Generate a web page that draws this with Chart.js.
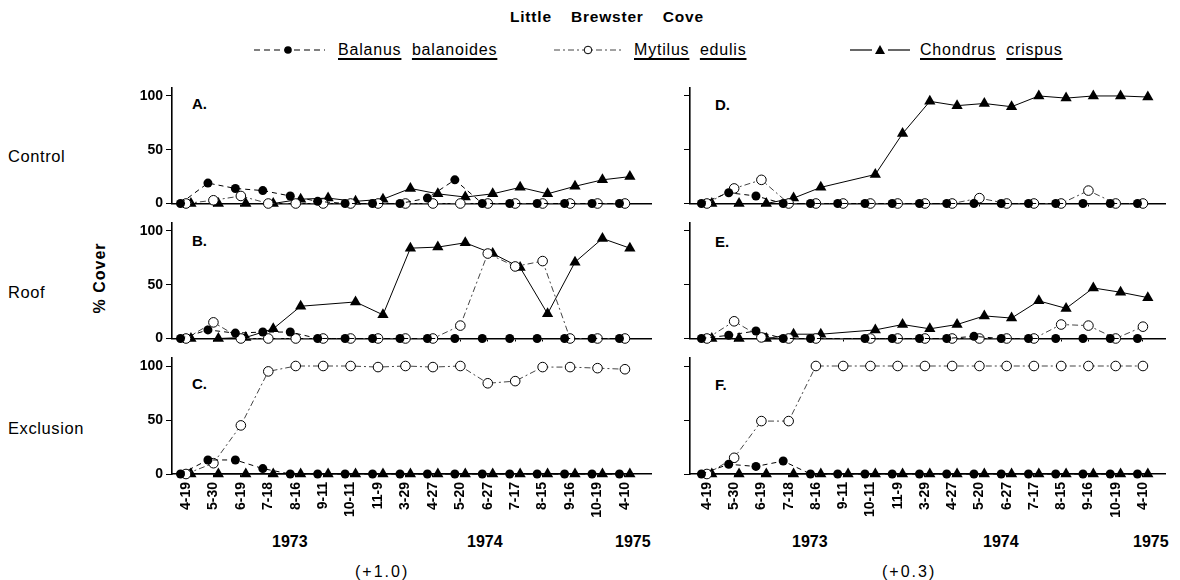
<!DOCTYPE html>
<html>
<head>
<meta charset="utf-8">
<script src="https://cdn.jsdelivr.net/npm/chart.js@4.4.0/dist/chart.umd.min.js"></script>
<style>
  body{margin:0;background:#fff;width:1180px;height:580px;position:relative;overflow:hidden;
       font-family:"Liberation Sans",Arial,sans-serif;color:#000}
  .t{position:absolute;white-space:nowrap;transform:translateY(-50%)}
  .u{text-decoration:underline;text-decoration-thickness:1.5px;text-underline-offset:3px}
  .lg{font-size:16px;letter-spacing:0.8px}
  .row{font-size:16.5px;letter-spacing:0.6px}
  canvas{position:absolute}
  svg{position:absolute}
</style>
</head>
<body>

<div class="t" style="left:510px;top:17px;font-size:15.5px;font-weight:bold;word-spacing:14px;letter-spacing:0.8px">Little Brewster Cove</div>

<svg style="left:252px;top:42px" width="75" height="16">
  <line x1="2" y1="8" x2="73" y2="8" stroke="#000" stroke-width="1.2" stroke-dasharray="6,4"/>
  <circle cx="36" cy="8" r="3.8" fill="#000"/>
</svg>
<div class="t lg" style="left:338px;top:50px"><span class="u">Balanus</span>&nbsp;&nbsp;<span class="u">balanoides</span></div>

<svg style="left:552px;top:42px" width="72" height="16">
  <line x1="2" y1="8" x2="70" y2="8" stroke="#444" stroke-width="1" stroke-dasharray="6,3,2,3"/>
  <circle cx="36" cy="8" r="3.8" fill="#fff" stroke="#000" stroke-width="1"/>
</svg>
<div class="t lg" style="left:634px;top:50px"><span class="u">Mytilus</span>&nbsp;&nbsp;<span class="u">edulis</span></div>

<svg style="left:848px;top:42px" width="64" height="16">
  <line x1="2" y1="8" x2="24" y2="8" stroke="#000" stroke-width="1.2"/>
  <line x1="40" y1="8" x2="62" y2="8" stroke="#000" stroke-width="1.2"/>
  <polygon points="32,3 37,12 27,12" fill="#000"/>
</svg>
<div class="t lg" style="left:920px;top:50px"><span class="u">Chondrus</span>&nbsp;&nbsp;<span class="u">crispus</span></div>

<div class="t row" style="left:8px;top:156px">Control</div>
<div class="t row" style="left:8px;top:292px">Roof</div>
<div class="t row" style="left:8px;top:428px">Exclusion</div>
<div class="t" style="left:100px;top:278px;font-size:16px;font-weight:bold;letter-spacing:1px;transform:translate(-50%,-50%) rotate(-90deg)">% Cover</div>

<div class="t" style="left:192px;top:103px;font-size:15px;font-weight:bold">A.</div>
<div class="t" style="left:192px;top:240px;font-size:15px;font-weight:bold">B.</div>
<div class="t" style="left:192px;top:383px;font-size:15px;font-weight:bold">C.</div>
<div class="t" style="left:715px;top:104px;font-size:15px;font-weight:bold">D.</div>
<div class="t" style="left:715px;top:241px;font-size:15px;font-weight:bold">E.</div>
<div class="t" style="left:715px;top:384px;font-size:15px;font-weight:bold">F.</div>

<div class="t" style="left:272px;top:542px;font-size:16px;font-weight:bold">1973</div>
<div class="t" style="left:467px;top:542px;font-size:16px;font-weight:bold">1974</div>
<div class="t" style="left:615px;top:542px;font-size:16px;font-weight:bold">1975</div>
<div class="t" style="left:792px;top:542px;font-size:16px;font-weight:bold">1973</div>
<div class="t" style="left:983px;top:542px;font-size:16px;font-weight:bold">1974</div>
<div class="t" style="left:1133px;top:542px;font-size:16px;font-weight:bold">1975</div>
<div class="t" style="left:355px;top:572px;font-size:16px;letter-spacing:2px">(+1.0)</div>
<div class="t" style="left:882px;top:572px;font-size:16px;letter-spacing:2px">(+0.3)</div>

<canvas id="pA"></canvas>
<canvas id="pB"></canvas>
<canvas id="pC"></canvas>
<canvas id="pD"></canvas>
<canvas id="pE"></canvas>
<canvas id="pF"></canvas>

<script>
const dates = ['4-19','5-30','6-19','7-18','8-16','9-11','10-11','11-9','3-29','4-27','5-20','6-27','7-17','8-15','9-16','10-19','4-10'];

// Control, +1.0
const balA  = [0,19,14,12,7,2,0,0,0,5,22,0,0,0,0,0,0];
const mytA  = [0,3,7,0,0,0,0,0,0,0,0,0,0,0,0,0,0];
const chonA = [0,0,0,0,4,5,2,4,14,9,6,9,15,9,16,22,25];
// Roof, +1.0
const balB  = [0,8,5,6,6,0,0,0,0,0,0,0,0,0,0,0,0];
const mytB  = [0,15,0,0,0,0,0,0,0,0,12,79,67,72,0,0,0];
const chonB = [0,0,1,9,30,null,34,22,84,85,89,79,66,23,71,93,84];
// Exclusion, +1.0
const balC  = [0,13,13,5,0,0,0,0,0,0,0,0,0,0,0,0,0];
const mytC  = [0,10,45,95,100,100,100,99,100,99,100,84,86,99,99,98,97];
const chonC = [0,0,0,0,0,0,0,0,0,0,0,0,0,0,0,0,0];
// Control, +0.3
const balD  = [0,10,7,0,0,0,0,0,0,0,0,0,0,0,0,0,0];
const mytD  = [0,14,22,0,0,0,0,0,0,0,5,0,0,0,12,0,0];
const chonD = [0,0,0,5,15,null,27,65,95,91,93,90,100,98,100,100,99];
// Roof, +0.3
const balE  = [0,3,7,0,0,null,0,0,0,0,2,0,0,0,0,0,0];
const mytE  = [0,16,1,0,0,null,0,0,0,0,0,0,0,13,12,0,11];
const chonE = [0,0,0,4,4,null,8,13,9,13,21,19,35,28,47,43,38];
// Exclusion, +0.3
const balF  = [0,9,7,12,0,0,0,0,0,0,0,0,0,0,0,0,0];
const mytF  = [0,15,49,49,100,100,100,100,100,100,100,100,100,100,100,100,100];
const chonF = [0,0,0,0,0,0,0,0,0,0,0,0,0,0,0,0,0];

const FONT = 'Liberation Sans, Arial, sans-serif';
const YW = 46, PADT = 12, PADR = 12, AREAH = 116, PXPER = 1.08;

function pts(arr, off){
  return arr.map((v,i)=>({x:i+off, y:v}));
}

function panel(id, col, y0, bal, myt, chon, bottom){
  const c = document.getElementById(id);
  const xh = bottom ? 56 : 6;
  c.width = (col.right-col.left) + YW + PADR;
  c.height = PADT + AREAH + xh;
  c.style.left = (col.left - YW) + 'px';
  c.style.top = (y0 - AREAH - PADT) + 'px';
  new Chart(c, {
    type:'line',
    data:{datasets:[
      {label:'Balanus balanoides', data:pts(bal,-0.2), borderColor:'#000', borderWidth:1,
       borderDash:[5,4], pointStyle:'circle', pointRadius:4.5, pointBackgroundColor:'#000',
       pointBorderColor:'#000', pointBorderWidth:0, spanGaps:true, clip:false},
      {label:'Mytilus edulis', data:pts(myt,0), borderColor:'#444', borderWidth:1,
       borderDash:[6,3,2,3], pointStyle:'circle', pointRadius:4.8, pointBackgroundColor:'#fff',
       pointBorderColor:'#000', pointBorderWidth:1, spanGaps:true, clip:false},
      {label:'Chondrus crispus', data:pts(chon,0.18), borderColor:'#000', borderWidth:1,
       pointStyle:'triangle', pointRadius:6.5, pointBackgroundColor:'#000',
       pointBorderColor:'#000', pointBorderWidth:0, spanGaps:true, clip:false}
    ]},
    options:{
      responsive:false, animation:false,
      layout:{padding:{top:PADT, right:PADR, left:0, bottom:0}},
      plugins:{legend:{display:false}, tooltip:{enabled:false}},
      scales:{
        x:{type:'linear', min:col.min, max:col.max,
           afterBuildTicks:s=>{ s.ticks = dates.map((d,i)=>({value:i})); },
           afterFit:s=>{ s.height = xh; s.paddingLeft = 0; s.paddingRight = 0; },
           ticks:{display:bottom, autoSkip:false, minRotation:90, maxRotation:90,
                  callback:v=>dates[v], color:'#000', padding:5,
                  font:{family:FONT, size:14, weight:'bold'}},
           grid:{drawOnChartArea:false, drawTicks:true, tickLength:3, color:'#000'},
           border:{color:'#000', width:1.6}},
        y:{min:0, max:AREAH/PXPER,
           afterBuildTicks:s=>{ s.ticks = [0,50,100].map(v=>({value:v})); },
           afterFit:s=>{ s.width = YW; s.paddingTop = 0; s.paddingBottom = 0; },
           ticks:{display:col.labels, color:'#000', padding:3,
                  font:{family:FONT, size:14, weight:'bold'}},
           grid:{drawOnChartArea:false, drawTicks:true, tickLength:6, color:'#000'},
           border:{color:'#000', width:1.6}}
      }
    }
  });
}

const leftCol  = {left:172, right:651, min:-0.51, max:16.95, labels:true};
const rightCol = {left:690, right:1165, min:-0.62, max:16.81, labels:false};

panel('pA', leftCol, 204, balA, mytA, chonA, false);
panel('pB', leftCol, 339, balB, mytB, chonB, false);
panel('pC', leftCol, 474, balC, mytC, chonC, true);
panel('pD', rightCol, 204, balD, mytD, chonD, false);
panel('pE', rightCol, 339, balE, mytE, chonE, false);
panel('pF', rightCol, 474, balF, mytF, chonF, true);
</script>
</body>
</html>
